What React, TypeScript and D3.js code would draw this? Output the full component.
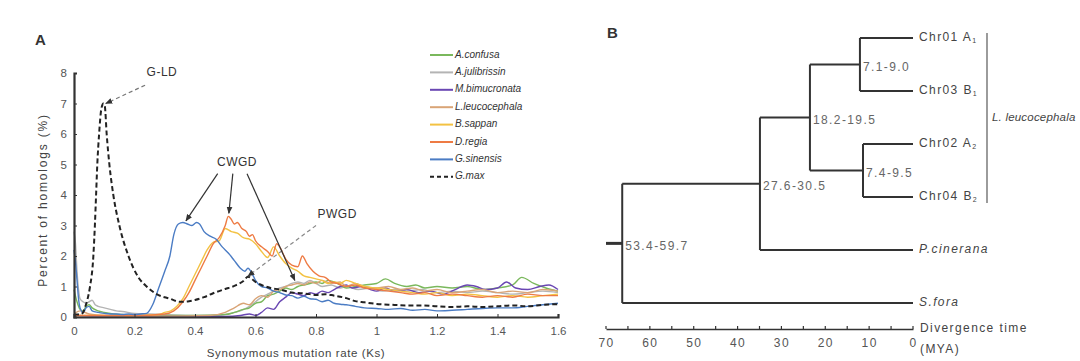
import { useRef, useEffect } from "react";
import * as d3 from "d3";

// Ks distributions, [Ks, percent] pairs
const aConfusa = [[0,0.9],[0.01,0.5],[0.02,0.25],[0.03,0.2],[0.04,0.35],[0.05,0.4],[0.06,0.3],[0.08,0.2],[0.1,0.15],[0.13,0.1],[0.16,0.08],[0.2,0.06],[0.3,0.05],[0.4,0.05],[0.5,0.08],[0.53,0.15],[0.56,0.25],[0.58,0.3],[0.6,0.45],[0.62,0.5],[0.64,0.7],[0.66,0.75],[0.68,0.85],[0.7,0.95],[0.72,0.9],[0.74,1.0],[0.76,1.05],[0.78,1.1],[0.8,1.15],[0.82,1.1],[0.84,1.2],[0.86,1.15],[0.88,1.05],[0.9,0.95],[0.93,1.0],[0.96,1.05],[1.0,1.1],[1.03,1.25],[1.06,1.1],[1.1,1.0],[1.13,1.05],[1.16,0.95],[1.2,1.0],[1.25,0.95],[1.3,1.0],[1.35,0.9],[1.4,0.95],[1.45,1.05],[1.48,1.3],[1.52,1.1],[1.56,0.95],[1.6,0.85]];
const aJulibrissin = [[0,2.8],[0.005,2.4],[0.01,1.5],[0.015,0.9],[0.02,0.6],[0.03,0.5],[0.04,0.45],[0.05,0.5],[0.06,0.55],[0.07,0.4],[0.08,0.35],[0.1,0.3],[0.12,0.25],[0.14,0.2],[0.16,0.18],[0.2,0.12],[0.25,0.1],[0.3,0.08],[0.4,0.05],[0.48,0.06],[0.52,0.12],[0.55,0.2],[0.58,0.35],[0.6,0.5],[0.62,0.65],[0.64,0.75],[0.66,0.85],[0.68,0.95],[0.7,1.0],[0.72,1.1],[0.74,1.15],[0.76,1.1],[0.78,1.2],[0.8,1.1],[0.82,1.0],[0.85,1.05],[0.88,0.95],[0.9,1.0],[0.94,0.9],[0.98,0.95],[1.02,0.85],[1.06,0.9],[1.1,0.85],[1.15,0.9],[1.2,0.8],[1.25,0.85],[1.3,0.8],[1.35,0.85],[1.4,0.8],[1.45,0.75],[1.5,0.8],[1.55,0.85],[1.6,0.8]];
const mBimucronata = [[0,0.05],[0.1,0.03],[0.3,0.02],[0.5,0.02],[0.55,0.05],[0.58,0.1],[0.6,0.05],[0.62,0.15],[0.64,0.3],[0.66,0.25],[0.68,0.5],[0.7,0.65],[0.72,0.8],[0.74,0.75],[0.76,0.7],[0.78,0.8],[0.8,0.75],[0.82,0.85],[0.84,0.8],[0.86,0.9],[0.88,1.0],[0.9,1.05],[0.92,0.95],[0.95,1.0],[0.98,0.9],[1.0,0.85],[1.03,0.95],[1.06,0.85],[1.1,0.9],[1.14,0.8],[1.18,0.85],[1.22,0.75],[1.26,0.9],[1.3,1.05],[1.33,1.0],[1.36,0.9],[1.4,0.95],[1.43,1.15],[1.46,0.95],[1.5,0.9],[1.54,1.0],[1.57,1.05],[1.6,0.9]];
const lLeucocephala = [[0,0.1],[0.02,0.2],[0.05,0.1],[0.1,0.05],[0.3,0.03],[0.45,0.05],[0.5,0.15],[0.53,0.3],[0.56,0.45],[0.58,0.4],[0.6,0.6],[0.62,0.7],[0.64,0.65],[0.66,0.85],[0.68,0.9],[0.7,1.0],[0.72,1.05],[0.74,1.1],[0.76,1.05],[0.78,1.15],[0.8,1.1],[0.82,1.2],[0.85,1.1],[0.88,1.15],[0.9,1.0],[0.93,1.1],[0.96,1.0],[1.0,0.95],[1.04,1.0],[1.08,0.9],[1.12,0.95],[1.16,0.85],[1.2,0.9],[1.25,0.8],[1.3,0.85],[1.35,0.9],[1.4,0.8],[1.45,0.85],[1.5,0.8],[1.55,0.9],[1.6,0.85]];
const bSappan = [[0,0.05],[0.2,0.05],[0.28,0.08],[0.3,0.15],[0.32,0.2],[0.34,0.35],[0.36,0.6],[0.38,1.0],[0.4,1.4],[0.42,1.8],[0.44,2.2],[0.46,2.45],[0.48,2.5],[0.5,2.9],[0.52,2.8],[0.54,2.75],[0.56,2.6],[0.58,2.55],[0.6,2.4],[0.62,2.15],[0.64,1.95],[0.66,2.3],[0.68,2.0],[0.7,1.75],[0.72,1.6],[0.74,1.5],[0.76,1.35],[0.78,1.3],[0.8,1.25],[0.82,1.2],[0.84,1.1],[0.86,1.15],[0.88,1.1],[0.9,1.2],[0.93,1.1],[0.96,1.0],[1.0,0.95],[1.04,0.9],[1.08,0.85],[1.12,0.8],[1.16,0.75],[1.2,0.8],[1.25,0.7],[1.3,0.75],[1.35,0.7],[1.4,0.65],[1.45,0.7],[1.5,0.65],[1.55,0.7],[1.6,0.75]];
const dRegia = [[0,0.05],[0.1,0.05],[0.2,0.05],[0.3,0.1],[0.33,0.2],[0.36,0.5],[0.38,0.8],[0.4,1.2],[0.42,1.6],[0.44,2.0],[0.46,2.4],[0.48,2.6],[0.5,3.0],[0.51,3.3],[0.52,3.2],[0.53,3.05],[0.54,3.1],[0.555,2.9],[0.57,2.8],[0.58,2.65],[0.59,2.7],[0.6,2.5],[0.62,2.3],[0.64,2.15],[0.655,2.0],[0.67,2.4],[0.68,2.3],[0.7,1.9],[0.72,1.7],[0.74,1.65],[0.755,2.0],[0.77,1.75],[0.79,1.5],[0.81,1.35],[0.83,1.3],[0.85,1.15],[0.87,1.1],[0.9,1.0],[0.93,1.05],[0.96,0.95],[1.0,0.9],[1.04,0.85],[1.08,0.8],[1.12,0.75],[1.16,0.8],[1.2,0.7],[1.25,0.75],[1.3,0.7],[1.35,0.65],[1.4,0.7],[1.45,0.65],[1.5,0.75],[1.55,0.7],[1.6,0.7]];
const gSinensis = [[0,2.2],[0.005,1.8],[0.01,1.2],[0.015,0.6],[0.02,0.3],[0.03,0.15],[0.04,0.3],[0.05,0.35],[0.06,0.2],[0.08,0.15],[0.1,0.12],[0.12,0.1],[0.14,0.1],[0.16,0.08],[0.18,0.1],[0.2,0.08],[0.22,0.1],[0.24,0.12],[0.26,0.4],[0.28,0.95],[0.3,1.5],[0.317,2.0],[0.33,2.7],[0.345,3.05],[0.36,3.1],[0.375,3.05],[0.39,3.0],[0.405,3.1],[0.415,3.05],[0.43,2.8],[0.45,2.65],[0.47,2.55],[0.49,2.3],[0.51,2.1],[0.53,1.85],[0.55,1.6],[0.565,1.5],[0.575,1.6],[0.59,1.4],[0.6,1.2],[0.62,1.0],[0.64,0.95],[0.66,0.85],[0.68,0.8],[0.7,0.72],[0.72,0.7],[0.74,0.62],[0.76,0.68],[0.78,0.6],[0.8,0.58],[0.82,0.5],[0.84,0.55],[0.86,0.45],[0.88,0.42],[0.9,0.4],[0.93,0.35],[0.96,0.3],[1.0,0.28],[1.04,0.25],[1.08,0.28],[1.12,0.22],[1.16,0.25],[1.2,0.2],[1.25,0.22],[1.3,0.25],[1.35,0.28],[1.4,0.3],[1.45,0.3],[1.5,0.35],[1.55,0.4],[1.6,0.45]];
const gMax = [[0,0.08],[0.02,0.08],[0.03,0.15],[0.036,0.3],[0.045,0.6],[0.053,1.0],[0.064,2.0],[0.069,3.0],[0.073,4.0],[0.077,5.0],[0.083,6.0],[0.09,6.8],[0.097,7.0],[0.102,6.9],[0.108,6.0],[0.117,5.0],[0.13,4.0],[0.15,3.0],[0.18,2.0],[0.213,1.3],[0.24,1.0],[0.273,0.75],[0.317,0.6],[0.35,0.5],[0.38,0.52],[0.4,0.56],[0.43,0.65],[0.46,0.78],[0.5,0.92],[0.53,1.02],[0.56,1.18],[0.575,1.32],[0.6,1.15],[0.62,1.05],[0.65,0.95],[0.68,0.9],[0.7,0.85],[0.72,0.8],[0.75,0.78],[0.78,0.75],[0.8,0.72],[0.83,0.75],[0.86,0.7],[0.9,0.62],[0.93,0.52],[0.96,0.48],[1.0,0.43],[1.05,0.4],[1.1,0.38],[1.15,0.38],[1.2,0.35],[1.25,0.33],[1.3,0.35],[1.35,0.33],[1.4,0.35],[1.45,0.38],[1.5,0.35],[1.55,0.4],[1.6,0.42]];

const speciesNames = ["A.confusa", "A.julibrissin", "M.bimucronata", "L.leucocephala", "B.sappan", "D.regia", "G.sinensis", "G.max"];
const speciesColors = ["#7ab85c", "#b4b4b4", "#6a47b3", "#d9a476", "#f3c243", "#ee7b44", "#4b7cc4", "#222"];
const speciesData = [aConfusa, aJulibrissin, mBimucronata, lLeucocephala, bSappan, dRegia, gSinensis, gMax];
// draw order (back to front)
const drawOrder = [1, 0, 2, 3, 4, 5, 6, 7];

const ksTicks = [0, 0.2, 0.4, 0.6, 0.8, 1, 1.2, 1.4, 1.6];
const pctTicks = [0, 1, 2, 3, 4, 5, 6, 7, 8];

// annotations in data units: [fromKs, fromPct, toKs, toPct]
const cwgdArrows = [[0.475, 4.7, 0.37, 3.15], [0.525, 4.7, 0.512, 3.4], [0.572, 4.7, 0.73, 1.2]];
const gldArrow = [0.235, 7.6, 0.105, 7.0];
const pwgdArrow = [0.8, 3.0, 0.575, 1.34];

// Tree (MYA)
const timeTicks = [70, 60, 50, 40, 30, 20, 10, 0];
const leafNames = ["Chr01 A", "Chr03 B", "Chr02 A", "Chr04 B", "P.cinerana", "S.fora"];
const leafSubs = ["1", "1", "2", "2", "", ""];
const nodeAges = [66.3, 34.9, 23.5, 12.1, 11.4];
const nodeRanges = ["53.4-59.7", "27.6-30.5", "18.2-19.5", "7.1-9.0", "7.4-9.5"];

function App() {
  const svgRef = useRef();

  useEffect(() => {
    const svg = d3.select(svgRef.current);
    svg.selectAll("*").remove();
    const font = "'Liberation Sans', Arial, sans-serif";
    svg.style("font-family", font);

    const defs = svg.append("defs");
    defs.append("marker").attr("id", "ah").attr("viewBox", "0 0 10 10")
      .attr("refX", 9).attr("refY", 5).attr("markerWidth", 6).attr("markerHeight", 6)
      .attr("orient", "auto-start-reverse")
      .append("path").attr("d", "M0,1L10,5L0,9Z").attr("fill", "#333");

    // ---------- Panel A ----------
    const x = d3.scaleLinear().domain([0, 1.6]).range([74, 558]);
    const y = d3.scaleLinear().domain([0, 8]).range([317, 73]);

    svg.append("text").text("A").attr("x", 35).attr("y", 45)
      .attr("font-size", 15).attr("font-weight", "bold").attr("fill", "#333");

    const line = d3.line().x(d => x(d[0])).y(d => y(d[1])).curve(d3.curveMonotoneX);

    drawOrder.forEach(i => {
      svg.append("path").attr("d", line(speciesData[i]))
        .attr("fill", "none")
        .attr("stroke", speciesColors[i])
        .attr("stroke-width", i === 7 ? 2 : 1.4)
        .attr("stroke-dasharray", i === 7 ? "5,3" : null);
    });

    const xAxis = d3.axisBottom(x).tickValues(ksTicks).tickSize(-3).tickPadding(10)
      .tickFormat(d => String(d));
    const gx = svg.append("g").attr("transform", "translate(0,317)").call(xAxis);
    const yAxis = d3.axisLeft(y).tickValues(pctTicks).tickSize(-3).tickPadding(7);
    const gy = svg.append("g").attr("transform", "translate(74,0)").call(yAxis);
    [gx, gy].forEach(g => {
      g.select(".domain").attr("stroke", "#333").attr("stroke-width", 2.2);
      g.selectAll(".tick line").attr("stroke", "#333");
      g.selectAll("text").attr("font-size", 11.5).attr("fill", "#555").attr("font-family", font);
    });

    svg.append("text").text("Percent of homologs (%)")
      .attr("transform", "translate(47,200) rotate(-90)")
      .attr("text-anchor", "middle").attr("font-size", 12).attr("letter-spacing", 1.8)
      .attr("fill", "#444");
    svg.append("text").text("Synonymous mutation rate (Ks)")
      .attr("x", 296).attr("y", 357).attr("text-anchor", "middle")
      .attr("font-size", 11.5).attr("letter-spacing", 0.6).attr("fill", "#444");

    // annotations
    const arrow = (a, dashed, color) => svg.append("line")
      .attr("x1", x(a[0])).attr("y1", y(a[1])).attr("x2", x(a[2])).attr("y2", y(a[3]))
      .attr("stroke", color).attr("stroke-width", 1.2)
      .attr("stroke-dasharray", dashed ? "4,3" : null)
      .attr("marker-end", "url(#ah)");
    arrow(gldArrow, true, "#777");
    arrow(pwgdArrow, true, "#888");
    cwgdArrows.forEach(a => arrow(a, false, "#333"));

    const note = (t, ks, pct, anchor) => svg.append("text").text(t)
      .attr("x", x(ks)).attr("y", y(pct)).attr("text-anchor", anchor)
      .attr("dominant-baseline", "middle").attr("font-size", 12)
      .attr("letter-spacing", 0.5).attr("fill", "#333");
    note("G-LD", 0.24, 8.0, "start");
    note("CWGD", 0.539, 5.05, "middle");
    note("PWGD", 0.87, 3.35, "middle");

    // legend
    const legend = svg.append("g").attr("transform", "translate(430,55)");
    speciesNames.forEach((name, i) => {
      const row = legend.append("g").attr("transform", `translate(0,${i * 17.4})`);
      row.append("line").attr("x1", 0).attr("x2", 23).attr("y1", 0).attr("y2", 0)
        .attr("stroke", speciesColors[i]).attr("stroke-width", 2)
        .attr("stroke-dasharray", i === 7 ? "4,3" : null);
      row.append("text").text(name).attr("x", 25).attr("y", 0)
        .attr("dominant-baseline", "middle").attr("font-size", 10)
        .attr("font-style", "italic").attr("fill", "#333");
    });

    // ---------- Panel B ----------
    svg.append("text").text("B").attr("x", 607).attr("y", 38)
      .attr("font-size", 15).attr("font-weight", "bold").attr("fill", "#333");

    const t = d3.scaleLinear().domain([70, 0]).range([606, 913]);
    const ly = d3.scalePoint().domain(leafNames).range([38, 303]);
    const bText = sel => sel.attr("font-size", 12).attr("letter-spacing", 1.4);

    const leaf = i => ({ name: leafNames[i], age: 0, sub: leafSubs[i] });
    const node = (k, children) => ({ age: nodeAges[k], range: nodeRanges[k], children });
    const treeData = node(0, [
      node(1, [
        node(2, [node(3, [leaf(0), leaf(1)]), node(4, [leaf(2), leaf(3)])]),
        leaf(4)
      ]),
      leaf(5)
    ]);
    const root = d3.hierarchy(treeData);
    root.eachAfter(n => {
      n.py = n.children ? d3.mean(n.children, c => c.py) : ly(n.data.name);
      n.px = t(n.data.age);
    });

    const tree = svg.append("g").attr("stroke", "#333").attr("stroke-width", 2).attr("fill", "none");
    // root stub
    tree.append("line").attr("x1", t(70)).attr("x2", root.px).attr("y1", root.py).attr("y2", root.py)
      .attr("stroke-width", 3);
    root.descendants().forEach(n => {
      if (!n.children) return;
      const ys = n.children.map(c => c.py);
      tree.append("line").attr("x1", n.px).attr("x2", n.px)
        .attr("y1", d3.min(ys)).attr("y2", d3.max(ys));
      n.children.forEach(c => {
        tree.append("line").attr("x1", n.px).attr("x2", c.px).attr("y1", c.py).attr("y2", c.py);
      });
      svg.append("text").text(n.data.range)
        .attr("x", n.px + 3).attr("y", n.py + 3)
        .attr("dominant-baseline", "middle").attr("fill", "#666")
        .call(bText);
    });

    root.leaves().forEach(n => {
      const italic = !n.data.sub;
      const tx = svg.append("text").attr("x", n.px + 6).attr("y", n.py)
        .attr("dominant-baseline", "middle").attr("fill", "#444")
        .attr("font-style", italic ? "italic" : null)
        .call(bText);
      tx.append("tspan").text(n.data.name);
      if (n.data.sub) tx.append("tspan").text(n.data.sub).attr("font-size", 7).attr("dy", 3);
    });

    // bracket for L. leucocephala subgenomes
    const top = ly(leafNames[0]), bot = ly(leafNames[3]);
    svg.append("line").attr("x1", 987).attr("x2", 987).attr("y1", top - 5).attr("y2", bot + 6)
      .attr("stroke", "#666").attr("stroke-width", 1.3);
    svg.append("text").text("L. leucocephala").attr("x", 992).attr("y", (top + bot) / 2)
      .attr("dominant-baseline", "middle").attr("font-style", "italic").attr("fill", "#444")
      .attr("font-size", 11.5).attr("letter-spacing", 0.2);

    // time axis
    const tAxis = d3.axisBottom(t).tickValues(timeTicks).tickSize(0).tickPadding(9);
    const gt = svg.append("g").attr("transform", "translate(0,329)").call(tAxis);
    gt.select(".domain").attr("stroke", "#333").attr("stroke-width", 1.5);
    gt.selectAll("text").attr("fill", "#555").attr("font-family", font).call(bText);
    gt.selectAll(".minor").data(d3.range(70, -1, -5)).join("line")
      .attr("x1", d => t(d)).attr("x2", d => t(d)).attr("y1", -3).attr("y2", 0)
      .attr("stroke", "#333").attr("stroke-width", 1.2);
    svg.append("text").text("Divergence time").attr("x", 920).attr("y", 332)
      .attr("fill", "#444").call(bText);
    svg.append("text").text("(MYA)").attr("x", 920).attr("y", 353)
      .attr("fill", "#444").call(bText);
  }, []);

  return (
    <svg ref={svgRef} width={1080} height={361}
      style={{ position: "absolute", left: 0, top: 0, background: "#fff" }} />
  );
}

export default App;
